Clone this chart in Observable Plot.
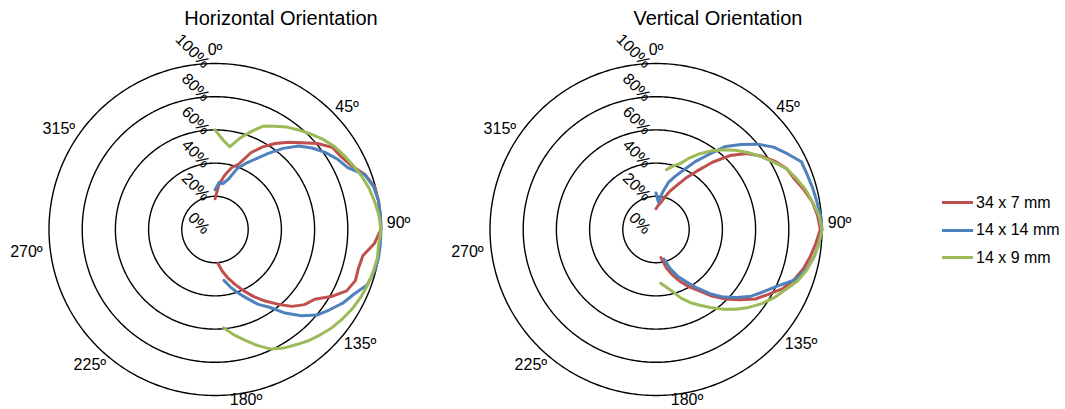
<!DOCTYPE html>
<html><head><meta charset="utf-8">
<script src="https://cdn.jsdelivr.net/npm/d3@7"></script>
<script src="https://cdn.jsdelivr.net/npm/@observablehq/plot@0.6"></script>
<style>
body{margin:0;background:#fff;font-family:"Liberation Sans",Arial,sans-serif;}
#root{position:relative;width:1065px;height:409px;overflow:hidden;background:#fff;}
.title{position:absolute;top:6px;font-size:20px;line-height:24px;color:#000;transform:translateX(-50%);white-space:nowrap;}
.chart{position:absolute;top:0;}
#legend{position:absolute;left:942px;top:189px;font-size:16px;color:#000;}
.item{display:flex;align-items:center;height:27.5px;white-space:nowrap;}
.sw{width:31px;height:3px;margin-right:3px;}
</style></head><body><div id="root"></div>
<script>
// ---- data ----
const seriesNames = ["34 x 7 mm", "14 x 14 mm", "14 x 9 mm"];
const angles = [0,5,10,15,20,25,30,35,40,45,50,55,60,65,70,75,80,85,90,95,100,105,110,115,120,125,130,135,140,145,150,155,160,165,170,175];
// Horizontal orientation (percent)
const hRed   = [18.5,27,33,38.5,42,51,57.5,63.2,68.7,74,80.6,86.3,87.7,90.8,96.3,99.5,100,100,100,96.4,90.5,89.5,90,87.5,80.8,73.3,70.4,65.5,58.7,52.6,46.7,40.7,35.2,30.4,25.5,20.6];
const hBlue  = [24,28.5,28,31.5,39,44,49.2,56,63.8,71.2,76.4,81,85,88.2,96.2,99,100,100,100,100,100,99.2,97.5,92.3,88.8,84.3,80.2,73.4,65.7,57.2,52.1,45.8,40.7,35.9,31.1,null];
const hGreen = [60,54.3,50.6,56.7,62.6,68.8,71.8,75.3,78.3,81.4,84.7,87.5,89.6,91.7,94,96.1,97.6,99.1,100,99,99.3,98.6,97.9,96.8,95.5,93.8,92,89.7,87.5,84.8,82.5,79.5,74.3,69,64.3,59.4];
// Vertical orientation (percent)
const vRed   = [12.5,14.5,16.5,20.1,24.6,29.2,35.6,42.9,52.9,63,71.2,77.2,82.4,86.8,88.8,92.3,95.6,97.7,99,96.6,94.3,91.8,88.5,84.2,78.2,73,65.8,59.2,52.4,45,39.9,34.6,29.2,23.8,17.2,null];
const vBlue  = [22,16.5,22.8,29.6,34.2,39.5,47.2,55,65.3,72.4,80,86.5,91.3,96.6,96.9,97.6,98.3,99.5,100,98.5,96.5,93.6,89,80.6,74.9,70,63.8,57.6,50.5,43,36.4,31.3,25,18.4,null,null];
const vGreen = [null,null,36.6,39.5,42.2,47.5,52.7,57.7,62.8,67.5,72.2,76.8,81.5,86.7,90,93.2,95.7,98.5,100,98.5,96.6,94.1,90.7,86,82.2,77.8,73,67.9,62.7,57.3,52.7,48.5,44,38.6,35.2,32.5];
const rings = [20,40,60,80,100];
const ringLabels = [0,20,40,60,80,100];
const angleTicks = [0,45,90,135,180,225,270,315];

// ---- layout / style ----
const colors = ["#C0504D","#4F81BD","#9BBB59"];
const labelNudge = [[0,3],[3,6],[1,-7],[16,-15],[31,-12],[4,6],[-6,22],[-27,28]];
const K = 0.9;               // projection degrees per percent
const lon = a => 180 - a;    // compass angle -> longitude (0 at top, clockwise)
const lat = r => 90 - r * K; // percent -> latitude

function polar(vals) {
  const rows = [];
  seriesNames.forEach((name, i) => {
    vals[i].forEach((v, j) => { if (v != null) rows.push({series: name, angle: angles[j], value: v}); });
  });
  return Plot.plot({
    width: 430, height: 409,
    marginLeft: 48.5, marginRight: 49.5, marginTop: 63, marginBottom: 14,
    projection: {
      type: "azimuthal-equidistant", rotate: [0, -90], clip: false,
      domain: d3.geoCircle().center([0, 90]).radius(100 * K)()
    },
    color: {domain: seriesNames, range: colors},
    style: {fontFamily: '"Liberation Sans", Arial, sans-serif', fontSize: "16px", color: "#000", overflow: "visible", background: "transparent"},
    marks: [
      Plot.geo(rings, {geometry: r => d3.geoCircle().center([0, 90]).radius(r * K).precision(1)(), stroke: "#000", strokeWidth: 1.4, fill: "none"}),
      Plot.line(rows, {x: d => lon(d.angle), y: d => lat(d.value), z: "series", stroke: "series", strokeWidth: 3, curve: "linear", strokeLinejoin: "round"}),
      Plot.text(ringLabels, {x: 180, y: d => lat(d), text: d => d + "%", rotate: 45, textAnchor: "end", dx: -8, dy: 2, fontSize: 16, fill: "#000"}),
      ...angleTicks.map((a, i) => Plot.text([a], {x: lon(a), y: lat(110), text: d => d + "º", dx: labelNudge[i][0], dy: labelNudge[i][1], fontSize: 16, fill: "#000"}))
    ]
  });
}

const root = document.getElementById("root");
function place(el, left) { el.classList.add("chart"); el.style.left = left + "px"; root.appendChild(el); }
place(polar([hRed, hBlue, hGreen]), 0);
place(polar([vRed, vBlue, vGreen]), 441);

[["Horizontal Orientation", 281], ["Vertical Orientation", 718]].forEach(([t, x]) => {
  const d = document.createElement("div"); d.className = "title"; d.textContent = t; d.style.left = x + "px"; root.appendChild(d);
});

const lg = document.createElement("div"); lg.id = "legend";
seriesNames.forEach((n, i) => {
  const it = document.createElement("div"); it.className = "item";
  const sw = document.createElement("div"); sw.className = "sw"; sw.style.background = colors[i];
  const tx = document.createElement("span"); tx.textContent = n;
  it.appendChild(sw); it.appendChild(tx); lg.appendChild(it);
});
root.appendChild(lg);
</script></body></html>
